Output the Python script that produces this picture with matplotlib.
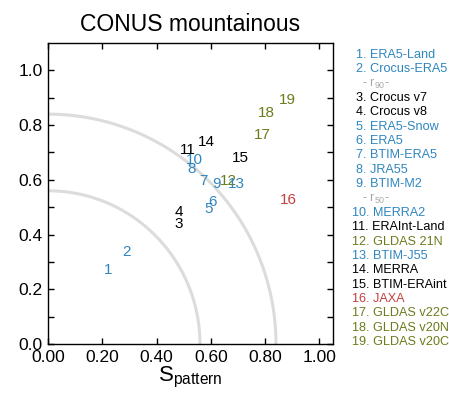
import matplotlib
matplotlib.use('Agg')
import matplotlib.pyplot as plt
import numpy as np

plt.rcParams['font.family'] = ['Liberation Sans', 'DejaVu Sans']
plt.rcParams['mathtext.fontset'] = 'custom'
plt.rcParams['mathtext.rm'] = 'Liberation Sans'
plt.rcParams['mathtext.it'] = 'Liberation Sans'

# data sets
names = ['ERA5-Land', 'Crocus-ERA5', 'Crocus v7', 'Crocus v8', 'ERA5-Snow',
         'ERA5', 'BTIM-ERA5', 'JRA55', 'BTIM-M2', 'MERRA2', 'ERAInt-Land',
         'GLDAS 21N', 'BTIM-J55', 'MERRA', 'BTIM-ERAint', 'JAXA',
         'GLDAS v22C', 'GLDAS v20N', 'GLDAS v20C']
groups = ['b', 'b', 'k', 'k', 'b', 'b', 'b', 'b', 'b', 'b', 'k',
          'g', 'b', 'k', 'k', 'r', 'g', 'g', 'g']
s_pattern = [0.22, 0.29, 0.483, 0.481, 0.59, 0.606, 0.571, 0.528, 0.619, 0.539,
             0.514, 0.665, 0.694, 0.583, 0.708, 0.887, 0.791, 0.803, 0.881]
s_y = [0.27, 0.337, 0.438, 0.483, 0.495, 0.52, 0.596, 0.641, 0.584, 0.674,
       0.708, 0.596, 0.584, 0.738, 0.678, 0.528, 0.765, 0.844, 0.893]
r_levels = [0.84, 0.56]
r_names = ['90', '50']
r_after = [2, 9]   # r line comes after this entry in the list

cols = {'b': '#2f86bf', 'k': 'black', 'g': '#6b7c1c', 'r': '#c3413f'}

fig = plt.figure(figsize=(4.49, 4.08), dpi=100)
ax = fig.add_axes([0.1069, 0.1569, 0.6347, 0.7377])

# r circles
th = np.linspace(0, np.pi / 2, 200)
for r in r_levels:
    ax.plot(r * np.cos(th), r * np.sin(th), color='#dcdcdc', lw=2.2, zorder=1)

for i in range(len(names)):
    ax.text(s_pattern[i], s_y[i], str(i + 1), color=cols[groups[i]],
            fontsize=11, ha='center', va='center', zorder=3)

ax.set_xlim(0, 1.05)
ax.set_ylim(0, 1.1)
ax.set_xticks([0, 0.2, 0.4, 0.6, 0.8, 1.0])
ax.set_xticklabels(['%.2f' % v for v in [0, 0.2, 0.4, 0.6, 0.8, 1.0]])
ax.set_yticks([0, 0.2, 0.4, 0.6, 0.8, 1.0])
ax.set_yticklabels(['%.1f' % v for v in [0, 0.2, 0.4, 0.6, 0.8, 1.0]])
ax.set_yticks(np.arange(0.1, 1.1, 0.2), minor=True)
ax.tick_params(which='both', direction='in', top=True, right=True,
               length=4, width=1, labelsize=12.5, pad=4)
for s in ax.spines.values():
    s.set_linewidth(1)

ax.set_xlabel(r'S$_{\mathrm{pattern}}$', fontsize=16, labelpad=0)
ax.set_title('CONUS mountainous', fontsize=16.5, pad=9)

# list on the right
y0 = 1 - 55 / 408
dy = 14.35 / 408
row = 0
for i in range(len(names)):
    lab = ('%d. ' % (i + 1)) + names[i]
    x = 352.5 / 449 if i >= 9 else 356 / 449
    fig.text(x, y0 - row * dy, lab, color=cols[groups[i]], fontsize=9.1,
             ha='left', va='center')
    row += 1
    if i + 1 in r_after:
        k = r_after.index(i + 1)
        fig.text(362 / 449, y0 - row * dy, '- r$_{%s}$-' % r_names[k],
                 color='#a8a8a8', fontsize=9.1, ha='left', va='center')
        row += 1

fig.savefig('out.png', dpi=100)
